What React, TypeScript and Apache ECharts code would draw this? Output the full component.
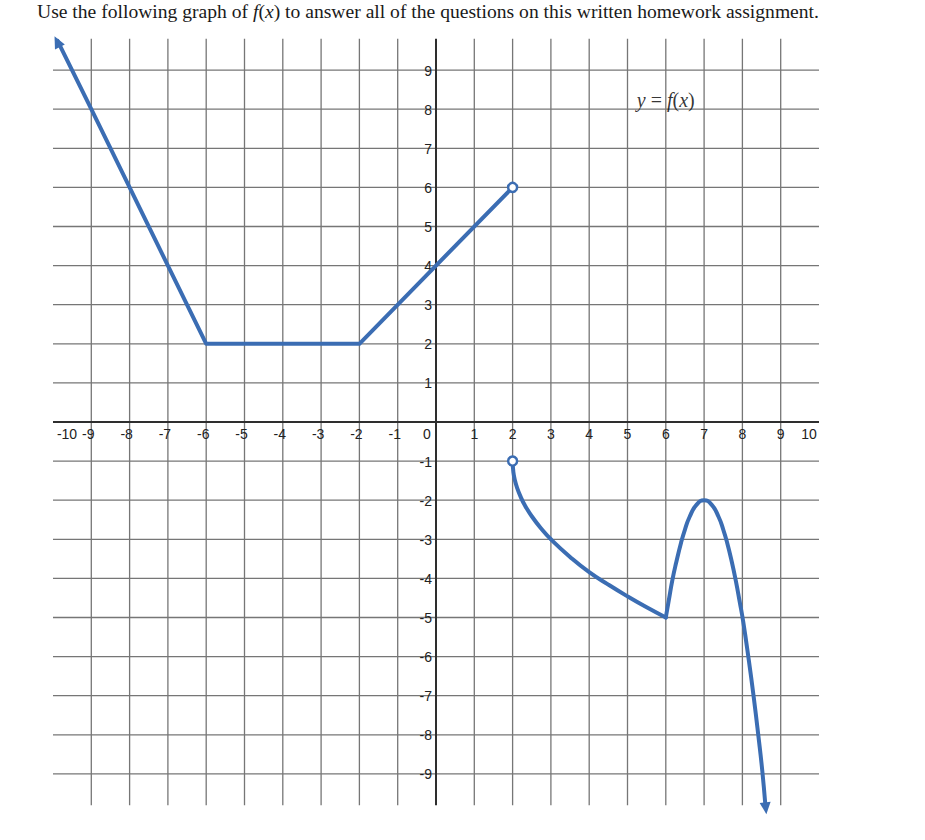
import React, { useEffect, useRef } from 'react';
import * as echarts from 'echarts';

// ---- text ----
const titleBefore = 'Use the following graph of ';
const titleFn = 'f';
const titleArg = 'x';
const titleAfter = ' to answer all of the questions on this written homework assignment.';

// ---- axes / grid ----
const xMin = -10;
const xMax = 10;
const yMin = -10;
const yMax = 10;
const tickStep = 1;
const verticalGridX = [-9, -8, -7, -6, -5, -4, -3, -2, -1, 1, 2, 3, 4, 5, 6, 7, 8, 9];
const horizontalGridY = [9, 8, 7, 6, 5, 4, 3, 2, 1, -1, -2, -3, -4, -5, -6, -7, -8, -9];
const verticalLineSpan = [-9.8, 9.8]; // y extent of vertical grid lines and y-axis
const horizontalLineSpan = [-10, 10]; // x extent of horizontal grid lines and x-axis
const xTickLabels = [-10, -9, -8, -7, -6, -5, -4, -3, -2, -1, 0, 1, 2, 3, 4, 5, 6, 7, 8, 9, 10];
const yTickLabels = [9, 8, 7, 6, 5, 4, 3, 2, 1, -1, -2, -3, -4, -5, -6, -7, -8, -9];

// ---- graph of f ----
const leftPiece = [
  [-9.88, 9.75],
  [-9, 8],
  [-8, 6],
  [-7, 4],
  [-6, 2],
  [-2, 2],
  [2, 6],
];
const rootPiece = [
  [2, -1],
  [2.02, -1.28],
  [2.06, -1.49],
  [2.12, -1.69],
  [2.2, -1.89],
  [2.32, -2.13],
  [2.5, -2.41],
  [2.75, -2.73],
  [3, -3],
  [3.5, -3.45],
  [4, -3.84],
  [4.5, -4.16],
  [5, -4.46],
  [5.5, -4.74],
  [6, -5],
];
const humpPiece = [
  [6, -5],
  [6.08, -4.55],
  [6.17, -4.05],
  [6.27, -3.6],
  [6.4, -3.08],
  [6.5, -2.75],
  [6.62, -2.43],
  [6.8, -2.12],
  [7, -2],
  [7.2, -2.12],
  [7.38, -2.43],
  [7.5, -2.75],
  [7.6, -3.08],
  [7.72, -3.56],
  [7.83, -4.07],
  [7.93, -4.6],
  [8.02, -5.1],
  [8.16, -6.04],
  [8.3, -7.07],
  [8.42, -8.05],
  [8.52, -8.93],
  [8.6, -9.8],
];
const openCircles = [
  [2, 6],
  [2, -1],
];
// x, y, rotation (deg)
const arrowHeads = [
  [-9.89, 9.73, 26.7],
  [8.61, -9.88, 185.8],
];
const curveLabel = [[6, 8.24]];

const BLUE = '#3b6db3';
const GRID = '#767676';
const AXIS = '#2e2e2e';
const LABEL_FONT = '"Liberation Sans", Arial, sans-serif';
const SERIF = '"Liberation Serif", "Times New Roman", serif';
const LABEL_COLOR = '#222222';

function xLabelShift(v: number): number {
  if (v === xMin) return 14;
  if (v === xMax) return -10;
  if (v === 0) return -9;
  if (v < 0) return -3;
  return 0;
}

export default function App() {
  const ref = useRef<HTMLDivElement>(null);

  useEffect(() => {
    if (!ref.current) return;
    const chart = echarts.init(ref.current, null, { renderer: 'svg' });

    const lineSeries = (data: number[][], smooth: boolean) => ({
      type: 'line',
      data,
      smooth: smooth ? 0.5 : false,
      showSymbol: false,
      symbol: 'none',
      clip: false,
      lineStyle: { color: BLUE, width: 4, cap: 'round', join: 'round' },
      z: 5,
      silent: true,
    });

    chart.setOption({
      animation: false,
      backgroundColor: '#ffffff',
      title: {
        left: 37,
        top: 1,
        padding: 0,
        text:
          '{n|' + titleBefore + '}{i|' + titleFn + '}{n|(}{i|' + titleArg + '}{n|)' + titleAfter + '}',
        textStyle: {
          fontWeight: 'normal',
          rich: {
            n: { fontFamily: SERIF, fontSize: 19.6, fontWeight: 'normal', color: '#1a1a1a' },
            i: { fontFamily: SERIF, fontSize: 19.6, fontWeight: 'normal', fontStyle: 'italic', color: '#1a1a1a' },
          },
        },
      },
      grid: { left: 53, right: 106, top: 31, bottom: 27, containLabel: false },
      xAxis: {
        type: 'value',
        min: xMin,
        max: xMax,
        interval: tickStep,
        axisLine: { show: false },
        axisTick: { show: false },
        splitLine: { show: false },
        axisLabel: { show: false },
      },
      yAxis: {
        type: 'value',
        min: yMin,
        max: yMax,
        interval: tickStep,
        axisLine: { show: false },
        axisTick: { show: false },
        splitLine: { show: false },
        axisLabel: { show: false },
      },
      series: [
        {
          type: 'custom',
          name: 'vgrid',
          silent: true,
          z: 1,
          data: verticalGridX.map((x) => [x, 0]),
          renderItem: (_p: any, api: any) => {
            const x = api.value(0);
            const a = api.coord([x, verticalLineSpan[1]]);
            const b = api.coord([x, verticalLineSpan[0]]);
            return {
              type: 'line',
              shape: { x1: a[0], y1: a[1], x2: b[0], y2: b[1] },
              style: { stroke: GRID, lineWidth: 1.3 },
            };
          },
        },
        {
          type: 'custom',
          name: 'hgrid',
          silent: true,
          z: 1,
          data: horizontalGridY.map((y) => [0, y]),
          renderItem: (_p: any, api: any) => {
            const y = api.value(1);
            const a = api.coord([horizontalLineSpan[0], y]);
            const b = api.coord([horizontalLineSpan[1], y]);
            return {
              type: 'line',
              shape: { x1: a[0], y1: a[1], x2: b[0], y2: b[1] },
              style: { stroke: GRID, lineWidth: 1.3 },
            };
          },
        },
        {
          type: 'custom',
          name: 'axes',
          silent: true,
          z: 2,
          data: [[0, 0]],
          renderItem: (_p: any, api: any) => {
            const ya = api.coord([0, verticalLineSpan[1]]);
            const yb = api.coord([0, verticalLineSpan[0]]);
            const xa = api.coord([horizontalLineSpan[0], 0]);
            const xb = api.coord([horizontalLineSpan[1], 0]);
            return {
              type: 'group',
              children: [
                {
                  type: 'line',
                  shape: { x1: ya[0], y1: ya[1], x2: yb[0], y2: yb[1] },
                  style: { stroke: AXIS, lineWidth: 2 },
                },
                {
                  type: 'line',
                  shape: { x1: xa[0], y1: xa[1], x2: xb[0], y2: xb[1] },
                  style: { stroke: AXIS, lineWidth: 2 },
                },
              ],
            };
          },
        },
        {
          type: 'custom',
          name: 'xLabels',
          silent: true,
          z: 3,
          data: xTickLabels.map((v) => [v, 0]),
          renderItem: (_p: any, api: any) => {
            const v = api.value(0);
            const p = api.coord([v, 0]);
            return {
              type: 'text',
              x: p[0] + xLabelShift(v),
              y: p[1] + 5,
              style: {
                text: String(v),
                fontFamily: LABEL_FONT,
                fontSize: 14,
                fill: LABEL_COLOR,
                align: 'center',
                verticalAlign: 'top',
              },
            };
          },
        },
        {
          type: 'custom',
          name: 'yLabels',
          silent: true,
          z: 3,
          data: yTickLabels.map((v) => [0, v]),
          renderItem: (_p: any, api: any) => {
            const v = api.value(1);
            const p = api.coord([0, v]);
            return {
              type: 'text',
              x: p[0] - 4,
              y: p[1] + 0.5,
              style: {
                text: String(v),
                fontFamily: LABEL_FONT,
                fontSize: 14,
                fill: LABEL_COLOR,
                align: 'right',
                verticalAlign: 'middle',
              },
            };
          },
        },
        lineSeries(leftPiece, false),
        lineSeries(rootPiece, true),
        lineSeries(humpPiece, true),
        {
          type: 'scatter',
          name: 'open',
          data: openCircles,
          symbol: 'circle',
          symbolSize: 9,
          clip: false,
          itemStyle: { color: '#ffffff', borderColor: BLUE, borderWidth: 2.5, opacity: 1 },
          z: 8,
          silent: true,
        },
        {
          type: 'scatter',
          name: 'arrows',
          data: arrowHeads.map((a) => ({ value: [a[0], a[1]], symbolRotate: a[2] })),
          symbol: 'triangle',
          symbolSize: [11, 12],
          clip: false,
          itemStyle: { color: BLUE, opacity: 1 },
          z: 8,
          silent: true,
        },
        {
          type: 'scatter',
          name: 'label',
          data: curveLabel,
          symbolSize: 1,
          itemStyle: { color: 'rgba(0,0,0,0)' },
          silent: true,
          z: 9,
          label: {
            show: true,
            position: 'inside',
            formatter: '{i|y}{n| = }{i|f}{n|(}{i|x}{n|)}',
            rich: {
              i: { fontFamily: SERIF, fontSize: 20, fontStyle: 'italic', color: '#000' },
              n: { fontFamily: SERIF, fontSize: 20, color: '#000' },
            },
          },
        },
      ],
    });

    return () => chart.dispose();
  }, []);

  return (
    <div
      ref={ref}
      style={{ position: 'absolute', left: 0, top: 0, width: 925, height: 840, background: '#fff' }}
    />
  );
}
